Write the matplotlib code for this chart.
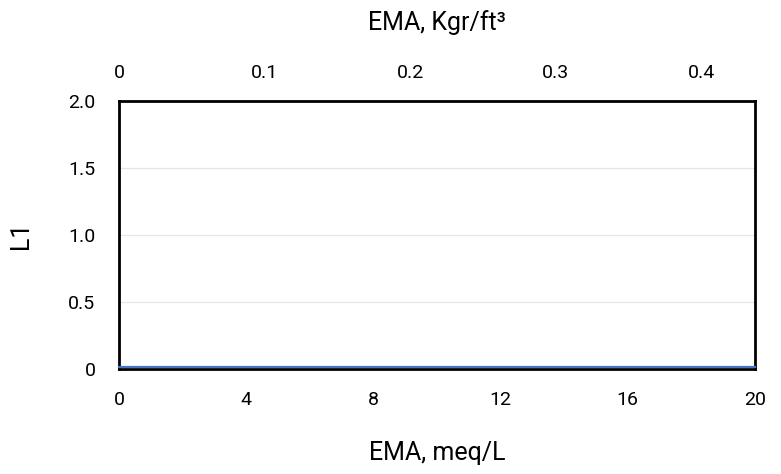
import numpy as np
import matplotlib
matplotlib.use("Agg")
import matplotlib.pyplot as plt

# data
ema_meq = [0, 4, 8, 12, 16, 20]
l1_values = [0.018, 0.018, 0.018, 0.018, 0.018, 0.018]
x_ticks = [0, 4, 8, 12, 16, 20]
x_tick_labels = ["0", "4", "8", "12", "16", "20"]
y_ticks = [0, 0.5, 1.0, 1.5, 2.0]
y_tick_labels = ["0", "0.5", "1.0", "1.5", "2.0"]
top_ticks = [0, 0.1, 0.2, 0.3, 0.4]
top_tick_labels = ["0", "0.1", "0.2", "0.3", "0.4"]
meq_to_kgr = 50 / 2288  # meq/L as CaCO3 -> Kgr/ft3

plt.rcParams['font.family'] = ['Roboto', 'DejaVu Sans']
fs = 14
lab_fs = 18

fig = plt.figure(figsize=(7.81, 4.74), dpi=100)
ax = fig.add_axes([119 / 781, 1 - 369 / 474, 636 / 781, 268 / 474])

ax.plot(ema_meq, l1_values, color='#4472C4', lw=1.6, clip_on=False, zorder=3)

ax.set_xlim(0, 20)
ax.set_ylim(0, 2.0)
ax.set_xticks(x_ticks)
ax.set_xticklabels(x_tick_labels, fontsize=fs)
ax.set_yticks(y_ticks)
ax.set_yticklabels(y_tick_labels, fontsize=fs)
ax.tick_params(axis='x', length=0, pad=16)
ax.tick_params(axis='y', length=0, pad=17)
ax.grid(True, axis='y', color='#e6e6e6', lw=0.9)
ax.set_axisbelow(True)
for s in ax.spines.values():
    s.set_linewidth(2)
    s.set_color('black')

ax.set_xlabel('EMA, meq/L', fontsize=lab_fs, labelpad=23)
ax.set_ylabel('L1', fontsize=lab_fs, labelpad=25)

# top axis in Kgr/ft3
ax2 = ax.twiny()
ax2.set_xlim(0, 20 * meq_to_kgr)
ax2.set_xticks(top_ticks)
ax2.set_xticklabels(top_tick_labels, fontsize=fs)
ax2.tick_params(length=0, pad=14)
for s in ax2.spines.values():
    s.set_visible(False)
ax2.set_xlabel('EMA, Kgr/ft\u00b3', fontsize=lab_fs, labelpad=24)

fig.savefig('out.png', dpi=100)
